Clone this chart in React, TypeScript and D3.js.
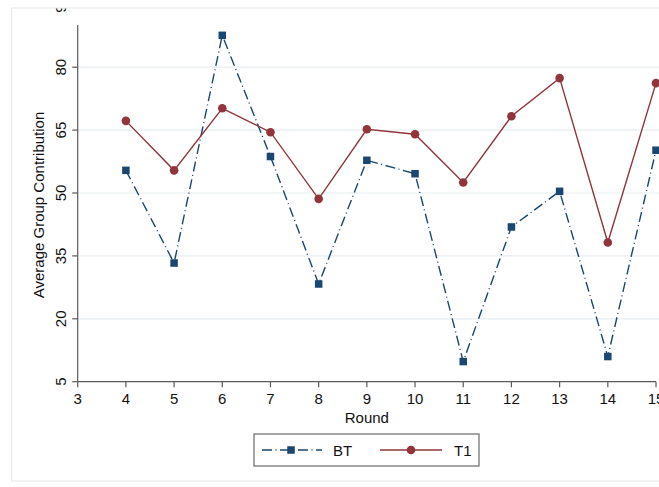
import React from "react";
import * as d3 from "d3";

const rounds = [4, 5, 6, 7, 8, 9, 10, 11, 12, 13, 14, 15];
const btValues = [55.4, 33.3, 87.6, 58.7, 28.3, 57.8, 54.6, 9.8, 41.9, 50.4, 11.0, 60.2];
const t1Values = [67.2, 55.4, 70.2, 64.5, 48.6, 65.2, 64.0, 52.5, 68.3, 77.4, 38.2, 76.2];
const xTicks = [3, 4, 5, 6, 7, 8, 9, 10, 11, 12, 13, 14, 15];
const yTicks = [5, 20, 35, 50, 65, 80, 95];
const seriesNames = ["BT", "T1"];

const W = 659;
const H = 487;
const NAVY = "#1a476f";
const MAROON = "#90353b";
const FONT = "'Liberation Sans', Arial, Helvetica, sans-serif";

export default function App() {
  const x = d3.scaleLinear().domain([3, 15]).range([77.7, 656]);
  const y = d3.scaleLinear().domain([5, 95]).range([381.7, 4.3]);

  const line = d3
    .line<number>()
    .x((_, i) => x(rounds[i]))
    .y((d) => y(d));

  const axisColor = "#5a5a5a";
  const gridColor = "#e8eef0";
  const ms = 7.5;

  return (
    <div style={{ position: "absolute", left: 0, top: 0 }}>
      <svg width={W} height={H} style={{ display: "block", background: "#fff" }} fontFamily={FONT}>
        {/* gridlines */}
        {yTicks
          .filter((t) => t !== 5 && t !== 95)
          .map((t) => (
            <line key={"g" + t} x1={x(3)} x2={W} y1={y(t)} y2={y(t)} stroke={gridColor} strokeWidth={1.2} />
          ))}

        {/* axes */}
        <line x1={x(3)} x2={x(3)} y1={25} y2={y(5)} stroke={axisColor} strokeWidth={1.2} />
        <line x1={x(3)} x2={x(15)} y1={y(5)} y2={y(5)} stroke={axisColor} strokeWidth={1.2} />
        {yTicks.map((t) => (
          <g key={"yt" + t}>
            <line x1={x(3) - 5.5} x2={x(3)} y1={y(t)} y2={y(t)} stroke={axisColor} strokeWidth={1.2} />
            <text
              transform={`translate(66,${y(t)}) rotate(-90)`}
              textAnchor="middle"
              fontSize={15}
              fill="#111"
            >
              {t}
            </text>
          </g>
        ))}
        {xTicks.map((t) => (
          <g key={"xt" + t}>
            <line x1={x(t)} x2={x(t)} y1={y(5)} y2={y(5) + 5.5} stroke={axisColor} strokeWidth={1.2} />
            <text x={x(t)} y={404} textAnchor="middle" fontSize={15} fill="#111">
              {t}
            </text>
          </g>
        ))}
        <text x={(x(3) + x(15)) / 2} y={423} textAnchor="middle" fontSize={15} fill="#111">
          Round
        </text>
        <text
          transform={`translate(44,205) rotate(-90)`}
          textAnchor="middle"
          fontSize={15}
          fill="#111"
        >
          Average Group Contribution
        </text>

        {/* BT series */}
        <path d={line(btValues) || ""} fill="none" stroke={NAVY} strokeWidth={1.4} strokeDasharray="10,3.5,1,3.5" />
        {btValues.map((v, i) => (
          <rect key={"b" + i} x={x(rounds[i]) - ms / 2} y={y(v) - ms / 2} width={ms} height={ms} fill={NAVY} />
        ))}

        {/* T1 series */}
        <path d={line(t1Values) || ""} fill="none" stroke={MAROON} strokeWidth={1.4} />
        {t1Values.map((v, i) => (
          <circle key={"t" + i} cx={x(rounds[i])} cy={y(v)} r={4.3} fill={MAROON} />
        ))}

        {/* crop mask above frame */}
        <rect x={0} y={0} width={W} height={8} fill="#fff" />
        <rect x={0} y={0} width={11.5} height={H} fill="#fff" />
        {/* outer frame */}
        <rect x={11.7} y={8} width={W + 10} height={473} fill="none" stroke="#e6e6e6" strokeWidth={1} />

        {/* legend */}
        <rect x={254} y={434} width={225} height={32} fill="#fff" stroke="#6a6a6a" strokeWidth={1.2} />
        <line x1={262} x2={322} y1={450} y2={450} stroke={NAVY} strokeWidth={1.4} strokeDasharray="10,3.5,1,3.5" />
        <rect x={291 - ms / 2} y={450 - ms / 2} width={ms} height={ms} fill={NAVY} />
        <text x={333} y={455.5} fontSize={15} fill="#111">
          {seriesNames[0]}
        </text>
        <line x1={380} x2={442} y1={450} y2={450} stroke={MAROON} strokeWidth={1.4} />
        <circle cx={411} cy={450} r={4.3} fill={MAROON} />
        <text x={454} y={455.5} fontSize={15} fill="#111">
          {seriesNames[1]}
        </text>
      </svg>
    </div>
  );
}
